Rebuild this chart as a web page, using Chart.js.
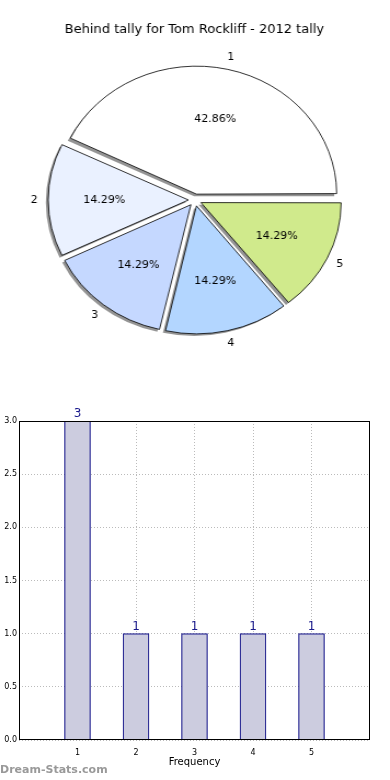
<!DOCTYPE html>
<html>
<head>
<meta charset="utf-8">
<script src="https://cdn.jsdelivr.net/npm/chart.js@4"></script>
<style>
	html, body { margin: 0; padding: 0; background: #fff; }
	#wrap { position: relative; width: 390px; height: 780px; overflow: hidden; }
	#pieChart { position: absolute; left: 0; top: 0; transform: scaleX(1.0955); transform-origin: 0 0; }
	#barChart { position: absolute; left: 0; top: 400px; }
</style>
</head>
<body>
<div id="wrap">
	<canvas id="pieChart" width="356" height="400"></canvas>
	<canvas id="barChart" width="390" height="380"></canvas>
</div>
<script>
var chartTitle = "Behind tally for Tom Rockliff - 2012 tally";
var categories = ["1", "2", "3", "4", "5"];
var tally = [3, 1, 1, 1, 1];
var yTicks = [0, 0.5, 1, 1.5, 2, 2.5, 3];
var sliceColors = ["#ffffff", "#eaf1ff", "#c5d8ff", "#b3d6ff", "#d0ea8c"];
var xTitle = "Frequency";
var watermark = "Dream-Stats.com";

var SX = 1.0955; // horizontal stretch of the pie canvas
var EXPLODE = 6;
var RADIUS = 128;
var total = tally.reduce(function(a, b) { return a + b; }, 0);

// pie goes counter clockwise from 3 o'clock, so feed it reversed
var pieLabels = categories.slice().reverse();
var pieData = tally.slice().reverse();
var pieColors = sliceColors.slice().reverse();

function flatText(ctx, txt, x, y) {
	ctx.save();
	ctx.translate(x, y);
	ctx.scale(1 / SX, 1);
	ctx.fillText(txt, 0, 0);
	ctx.restore();
}

function arcInfo(arc) {
	var p = arc.getProps(['x', 'y', 'startAngle', 'endAngle'], true);
	var mid = (p.startAngle + p.endAngle) / 2;
	return {
		cx: p.x + Math.cos(mid) * EXPLODE,
		cy: p.y + Math.sin(mid) * EXPLODE,
		mid: mid, r: RADIUS, s: p.startAngle, e: p.endAngle
	};
}

// chart.js grows an offset arc a bit, take that back so all wedges share one radius
var pieRadiusFix = {
	id: 'pieRadiusFix',
	afterDatasetUpdate: function(chart) {
		chart.getDatasetMeta(0).data.forEach(function(arc) {
			var circ = arc.endAngle - arc.startAngle;
			var fix = 1 - Math.sin(Math.min(Math.PI, circ));
			arc.outerRadius = RADIUS - EXPLODE * fix;
		});
	}
};

// matplotlib style drop shadow under each wedge
var pieShadow = {
	id: 'pieShadow',
	beforeDatasetsDraw: function(chart) {
		var ctx = chart.ctx;
		ctx.save();
		ctx.fillStyle = 'rgba(0,0,0,0.42)';
		chart.getDatasetMeta(0).data.forEach(function(arc) {
			var a = arcInfo(arc);
			var x = a.cx - 2.2, y = a.cy + 2.2;
			ctx.beginPath();
			ctx.moveTo(x, y);
			ctx.arc(x, y, a.r, a.s, a.e);
			ctx.closePath();
			ctx.fill();
		});
		ctx.restore();
	}
};

var pieText = {
	id: 'pieText',
	afterDraw: function(chart) {
		var ctx = chart.ctx;
		ctx.save();
		ctx.fillStyle = '#000';
		ctx.textAlign = 'center';
		ctx.textBaseline = 'middle';
		ctx.font = '13px "DejaVu Sans"';
		flatText(ctx, chartTitle, 356 / 2 - 0.5, 30);
		ctx.font = '11px "DejaVu Sans"';
		chart.getDatasetMeta(0).data.forEach(function(arc, i) {
			var a = arcInfo(arc);
			var pct = (pieData[i] / total * 100).toFixed(2) + '%';
			flatText(ctx, pct, a.cx + Math.cos(a.mid) * a.r * 0.6, a.cy + Math.sin(a.mid) * a.r * 0.6);
			flatText(ctx, pieLabels[i], a.cx + Math.cos(a.mid) * a.r * 1.1, a.cy + Math.sin(a.mid) * a.r * 1.1);
		});
		ctx.restore();
	}
};

new Chart(document.getElementById('pieChart'), {
	type: 'pie',
	data: {
		labels: pieLabels,
		datasets: [{
			data: pieData,
			backgroundColor: pieColors,
			borderColor: '#000',
			borderWidth: 0.8,
			offset: EXPLODE * 4,
			radius: RADIUS,
			borderJoinStyle: 'miter'
		}]
	},
	options: {
		responsive: false,
		animation: false,
		rotation: 90,
		layout: { padding: 0 },
		plugins: {
			legend: { display: false },
			tooltip: { enabled: false },
			title: { display: false }
		}
	},
	plugins: [pieRadiusFix, pieShadow, pieText]
});

var barText = {
	id: 'barText',
	afterDraw: function(chart) {
		var ctx = chart.ctx;
		ctx.save();
		ctx.fillStyle = '#1a1a8c';
		ctx.textAlign = 'center';
		ctx.textBaseline = 'bottom';
		ctx.font = '12px "DejaVu Sans"';
		chart.getDatasetMeta(0).data.forEach(function(bar, i) {
			ctx.fillText(String(tally[i]), bar.x, bar.y - 1);
		});
		ctx.fillStyle = '#999';
		ctx.textAlign = 'left';
		ctx.textBaseline = 'middle';
		ctx.font = 'bold 11px "DejaVu Sans"';
		ctx.fillText(watermark, 0, 370);
		ctx.restore();
	}
};

new Chart(document.getElementById('barChart'), {
	type: 'bar',
	data: {
		datasets: [{
			data: categories.map(function(c, i) { return { x: Number(c), y: tally[i] }; }),
			backgroundColor: '#ccccdf',
			borderColor: '#1a1a8c',
			borderWidth: 1.2,
			barThickness: 26
		}]
	},
	options: {
		responsive: false,
		animation: false,
		layout: { padding: { top: 21, right: 20, left: 0, bottom: 0 } },
		plugins: {
			legend: { display: false },
			tooltip: { enabled: false }
		},
		scales: {
			x: {
				type: 'linear',
				min: 0,
				max: 6,
				offset: false,
				z: 1,
				afterFit: function(s) { s.height = 40; },
				afterBuildTicks: function(s) {
					s.ticks = categories.map(function(c) { return { value: Number(c) }; });
				},
				ticks: {
					color: '#000',
					font: { family: 'DejaVu Sans', size: 8 },
					padding: 8,
					callback: function(v) { return String(v); }
				},
				grid: {
					color: '#bbb',
					lineWidth: 1,
					offset: false,
					drawTicks: false
				},
				border: { display: false, dash: [1, 2] },
				title: {
					display: true,
					text: xTitle,
					color: '#000',
					font: { family: 'DejaVu Sans', size: 10 },
					padding: { top: 0, bottom: 12 }
				}
			},
			y: {
				min: 0,
				max: 3,
				z: 1,
				afterFit: function(s) { s.width = 19; },
				afterBuildTicks: function(s) {
					s.ticks = yTicks.map(function(v) { return { value: v }; });
				},
				ticks: {
					color: '#000',
					font: { family: 'DejaVu Sans', size: 8 },
					padding: 2,
					callback: function(v) { return v.toFixed(1); }
				},
				grid: {
					color: '#bbb',
					lineWidth: 1,
					drawTicks: false
				},
				border: { display: false, dash: [1, 2] }
			}
		}
	},
	plugins: [{
		id: 'frame',
		afterDraw: function(chart) {
			var a = chart.chartArea;
			var ctx = chart.ctx;
			ctx.save();
			ctx.strokeStyle = '#000';
			ctx.lineWidth = 1;
			ctx.strokeRect(Math.round(a.left) + 0.5, Math.round(a.top) + 0.5, Math.round(a.width) - 1, Math.round(a.height) - 1);
			ctx.restore();
		}
	}, barText]
});
</script>
</body>
</html>
